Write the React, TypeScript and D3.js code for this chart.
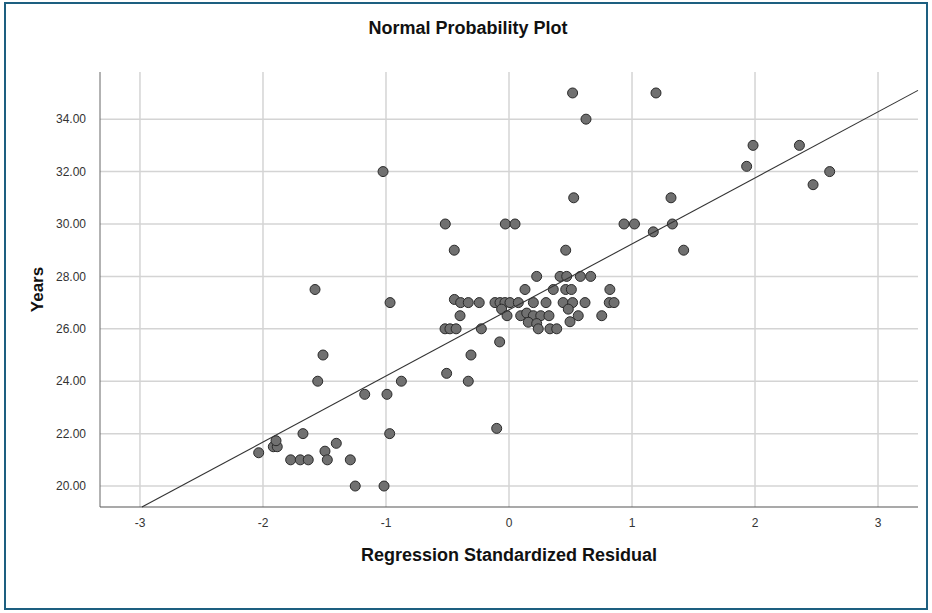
import React from 'react'
import * as d3 from 'd3'

const residuals = [
    -2.035, -1.916, -1.884, -1.894, -1.775, -1.697, -1.632, -1.675, -1.496, -1.477,
    -1.404, -1.29, -1.25, -1.016, -0.97, -1.512, -1.555, -1.173, -0.992, -0.875,
    -1.577, -1.024, -0.967,
    -0.518, -0.03, 0.049, -0.445, -0.444, -0.393, -0.331, -0.242, -0.398, -0.52,
    -0.48, -0.43, -0.225, -0.076, -0.309, -0.507, -0.331, -0.1,
    -0.114, -0.073, -0.033, 0.008, 0.076, 0.198, 0.301, 0.44, 0.517, 0.618, 0.815, 0.854,
    -0.06, 0.482,
    -0.016, 0.095, 0.144, 0.198, 0.258, 0.325, 0.563, 0.754,
    0.157, 0.225, 0.496,
    0.238, 0.333, 0.388,
    0.13, 0.36, 0.461, 0.507, 0.82,
    0.225, 0.415, 0.469, 0.58, 0.664,
    0.461, 1.42, 1.173, 0.935, 1.02, 1.328, 0.526, 1.317,
    0.517, 1.195, 0.626, 1.984, 2.361, 1.932, 2.607, 2.472,
]
const years = [
    21.27, 21.5, 21.5, 21.73, 21, 21, 21, 22, 21.33, 21,
    21.63, 21, 20, 20, 22, 25, 24, 23.5, 23.5, 24,
    27.5, 32, 27,
    30, 30, 30, 29, 27.12, 27, 27, 27, 26.5, 26,
    26, 26, 26, 25.5, 25, 24.3, 24, 22.2,
    27, 27, 27, 27, 27, 27, 27, 27, 27, 27, 27, 27,
    26.75, 26.75,
    26.5, 26.5, 26.6, 26.5, 26.5, 26.5, 26.5, 26.5,
    26.25, 26.2, 26.27,
    26, 26, 26,
    27.5, 27.5, 27.5, 27.5, 27.5,
    28, 28, 28, 28, 28,
    29, 29, 29.7, 30, 30, 30, 31, 31,
    35, 35, 34, 33, 33, 32.2, 32, 31.5,
]

const xTicks = [-3, -2, -1, 0, 1, 2, 3]
const yTicks = [20, 22, 24, 26, 28, 30, 32, 34]

// reference line: years = intercept + slope * residual
const lineIntercept = 26.72
const lineSlope = 2.52

const App = () => {
    const width = 932,
        height = 613
    const left = 100,
        right = 918,
        top = 72,
        bottom = 507

    const x = d3.scaleLinear().domain([-3.325, 3.325]).range([left, right])
    const y = d3.scaleLinear().domain([19.2, 35.8]).range([bottom, top])

    const font = '"Liberation Sans", Arial, sans-serif'

    // line from bottom edge of plot to right edge
    const zStart = (y.domain()[0] - lineIntercept) / lineSlope
    const zEnd = x.domain()[1]
    const fitLine = d3.line<number>()
        .x(d => x(d))
        .y(d => y(lineIntercept + lineSlope * d))([zStart, zEnd])

    const points = residuals.map((r, i) => ({ r, yr: years[i] }))

    return (
        <div style={{ position: 'absolute', left: 0, top: 0 }}>
            <svg width={width} height={height} style={{ display: 'block', background: '#fff' }}>
                <rect x={5} y={3} width={922} height={606} fill="#fff" stroke="#1d5f80" strokeWidth={2} />

                <text x={468} y={34} textAnchor="middle" fontFamily={font} fontSize={18} fontWeight="bold" fill="#111">
                    Normal Probability Plot
                </text>

                {/* grid */}
                {yTicks.map(t => (
                    <line key={'gy' + t} x1={left} x2={right} y1={y(t)} y2={y(t)} stroke="#d4d4d4" strokeWidth={1.5} />
                ))}
                {xTicks.map(t => (
                    <line key={'gx' + t} x1={x(t)} x2={x(t)} y1={top} y2={bottom} stroke="#d4d4d4" strokeWidth={1.5} />
                ))}

                {/* axes */}
                <line x1={left} x2={left} y1={top} y2={bottom} stroke="#666" strokeWidth={1} />
                <line x1={left} x2={right} y1={bottom} y2={bottom} stroke="#555" strokeWidth={1.2} />

                {yTicks.map(t => (
                    <text key={'ly' + t} x={86} y={y(t)} dy="0.35em" textAnchor="end" fontFamily={font} fontSize={12} fill="#333">
                        {d3.format('.2f')(t)}
                    </text>
                ))}
                {xTicks.map(t => (
                    <text key={'lx' + t} x={x(t)} y={527} textAnchor="middle" fontFamily={font} fontSize={12} fill="#333">
                        {t < 0 ? '-' + Math.abs(t) : t}
                    </text>
                ))}

                <text x={509} y={561} textAnchor="middle" fontFamily={font} fontSize={18} fontWeight="bold" fill="#111">
                    Regression Standardized Residual
                </text>
                <text transform={`translate(43,${(top + bottom) / 2}) rotate(-90)`} textAnchor="middle" fontFamily={font} fontSize={17} fontWeight="bold" fill="#111">
                    Years
                </text>

                {/* points */}
                {points.map((p, i) => (
                    <circle key={i} cx={x(p.r)} cy={y(p.yr)} r={5} fill="#707070" stroke="#2a2a2a" strokeWidth={1} />
                ))}

                <path d={fitLine ?? ''} fill="none" stroke="#333" strokeWidth={1.1} />
            </svg>
        </div>
    )
}

export default App
